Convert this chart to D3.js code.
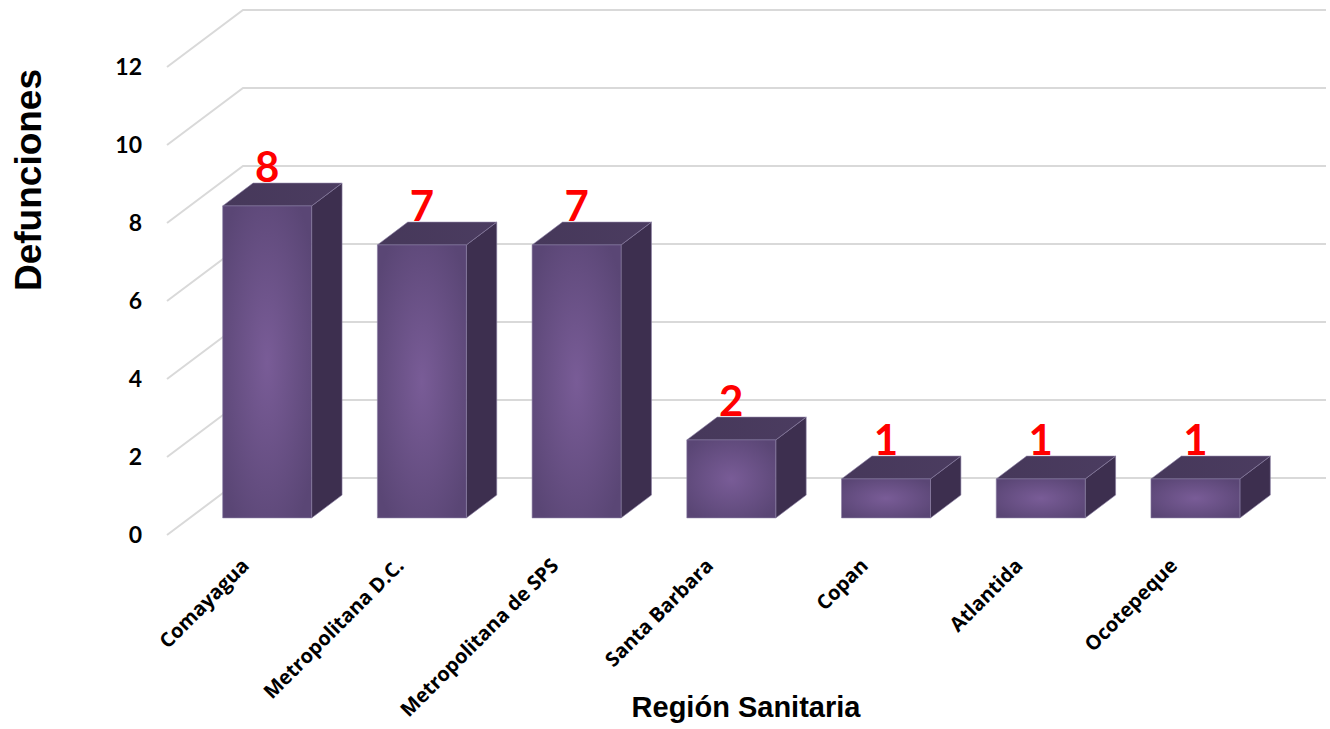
<!DOCTYPE html>
<html>
<head>
<meta charset="utf-8">
<script src="https://cdn.jsdelivr.net/npm/d3@7"></script>
<style>
body { margin:0; background:#fff; }
svg { display:block; }
</style>
</head>
<body>
<svg id="chart"></svg>
<script>
var regiones = ["Comayagua", "Metropolitana D.C.", "Metropolitana de SPS", "Santa Barbara", "Copan", "Atlantida", "Ocotepeque"]
var defunciones = [8, 7, 7, 2, 1, 1, 1]
var yTicks = [0, 2, 4, 6, 8, 10, 12]

var screen = {width:1330, height:729}
// depth of the 3d box: offset of the back wall from the front plane
var wall = {dx:76, dy:-57}
var barFront = 0.3, barBack = 0.7

var svg = d3.select("#chart")
    .attr("width", screen.width)
    .attr("height", screen.height)

var defs = svg.append("defs")
var grad = defs.append("radialGradient").attr("id", "frontGrad")
    .attr("cx", "50%").attr("cy", "50%").attr("r", "62%")
grad.append("stop").attr("offset", "0%").attr("stop-color", "#795c97")
grad.append("stop").attr("offset", "100%").attr("stop-color", "#5a4675")

var topGrad = defs.append("linearGradient").attr("id", "topGrad")
    .attr("x1", "0%").attr("x2", "100%").attr("y1", "0%").attr("y2", "0%")
topGrad.append("stop").attr("offset", "0%").attr("stop-color", "#46385a")
topGrad.append("stop").attr("offset", "100%").attr("stop-color", "#4b3c60")

var xscale = d3.scaleBand()
    .domain(regiones)
    .range([167, 1250])
    .paddingInner(0.425)
    .paddingOuter(0.2125)

var yscale = d3.scaleLinear()
    .domain([0, 12])
    .range([535, 67])

// point on the floor/wall grid: front-plane x, value, depth 0..1
var pt = function(x, v, d) {
    return [x + d * wall.dx, yscale(v) + d * wall.dy]
}

// gridlines: side diagonal + back wall
var grid = svg.append("g")
grid.selectAll("path")
    .data(yTicks)
    .enter()
    .append("path")
    .attr("fill", "none")
    .attr("stroke", "#d9d9d9")
    .attr("stroke-width", 2)
    .attr("d", function(v) {
        var r = xscale.range()
        return d3.line()([pt(r[0], v, 0), pt(r[0], v, 1), pt(r[1], v, 1)])
    })

// y axis labels
var yAxis = d3.axisLeft(yscale).tickValues(yTicks).tickSize(0).tickPadding(0)
var yg = svg.append("g")
    .attr("transform", "translate(142,0)")
    .call(yAxis)
yg.select(".domain").remove()
yg.selectAll("text")
    .attr("font-family", "Lato")
    .attr("font-weight", "bold")
    .attr("font-size", 23)
    .attr("fill", "#000")

// bars
var bars = svg.append("g")
    .selectAll("g")
    .data(regiones)
    .enter()
    .append("g")

var corners = function(name, i) {
    var x0 = xscale(name), x1 = x0 + xscale.bandwidth(), v = defunciones[i]
    return {
        fbl: pt(x0, 0, barFront), fbr: pt(x1, 0, barFront),
        ftl: pt(x0, v, barFront), ftr: pt(x1, v, barFront),
        bbr: pt(x1, 0, barBack), btl: pt(x0, v, barBack), btr: pt(x1, v, barBack)
    }
}

bars.append("path")
    .attr("fill", "#3d2f4f")
    .attr("stroke", "#8a7ea3").attr("stroke-width", 0.6)
    .attr("d", function(name, i) {
        var c = corners(name, i)
        return d3.line()([c.fbr, c.ftr, c.btr, c.bbr]) + "Z"
    })

bars.append("path")
    .attr("fill", "url(#topGrad)")
    .attr("stroke", "#8a7ea3").attr("stroke-width", 0.6)
    .attr("d", function(name, i) {
        var c = corners(name, i)
        return d3.line()([c.ftl, c.ftr, c.btr, c.btl]) + "Z"
    })

bars.append("path")
    .attr("fill", "url(#frontGrad)")
    .attr("stroke", "#8a7ea3").attr("stroke-width", 0.6)
    .attr("d", function(name, i) {
        var c = corners(name, i)
        return d3.line()([c.fbl, c.fbr, c.ftr, c.ftl]) + "Z"
    })

// value labels
bars.append("text")
    .attr("x", function(name) {
        return pt(xscale(name) + xscale.bandwidth() / 2, 0, barFront)[0]
    })
    .attr("y", function(name, i) {
        return pt(0, defunciones[i], barBack)[1] - 1
    })
    .attr("text-anchor", "middle")
    .attr("font-family", "Lato")
    .attr("font-weight", "bold")
    .attr("font-size", 42)
    .attr("fill", "#ff0000")
    .text(function(name, i) { return defunciones[i] })

// category labels
svg.append("g")
    .selectAll("text")
    .data(regiones)
    .enter()
    .append("text")
    .attr("transform", function(name) {
        var x = xscale(name) + xscale.bandwidth() / 2 + 6
        return "translate(" + x + ",567) rotate(-45)"
    })
    .attr("text-anchor", "end")
    .attr("font-family", "Open Sans")
    .attr("font-weight", "bold")
    .attr("font-size", 20)
    .attr("fill", "#000")
    .text(function(name) { return name })

// axis titles
svg.append("text")
    .attr("transform", "translate(41,180) rotate(-90)")
    .attr("text-anchor", "middle")
    .attr("font-family", "Liberation Sans, Arial")
    .attr("font-weight", "bold")
    .attr("font-size", 37)
    .text("Defunciones")

svg.append("text")
    .attr("x", 746)
    .attr("y", 717)
    .attr("text-anchor", "middle")
    .attr("font-family", "Liberation Sans, Arial")
    .attr("font-weight", "bold")
    .attr("font-size", 29)
    .text("Región Sanitaria")
</script>
</body>
</html>
